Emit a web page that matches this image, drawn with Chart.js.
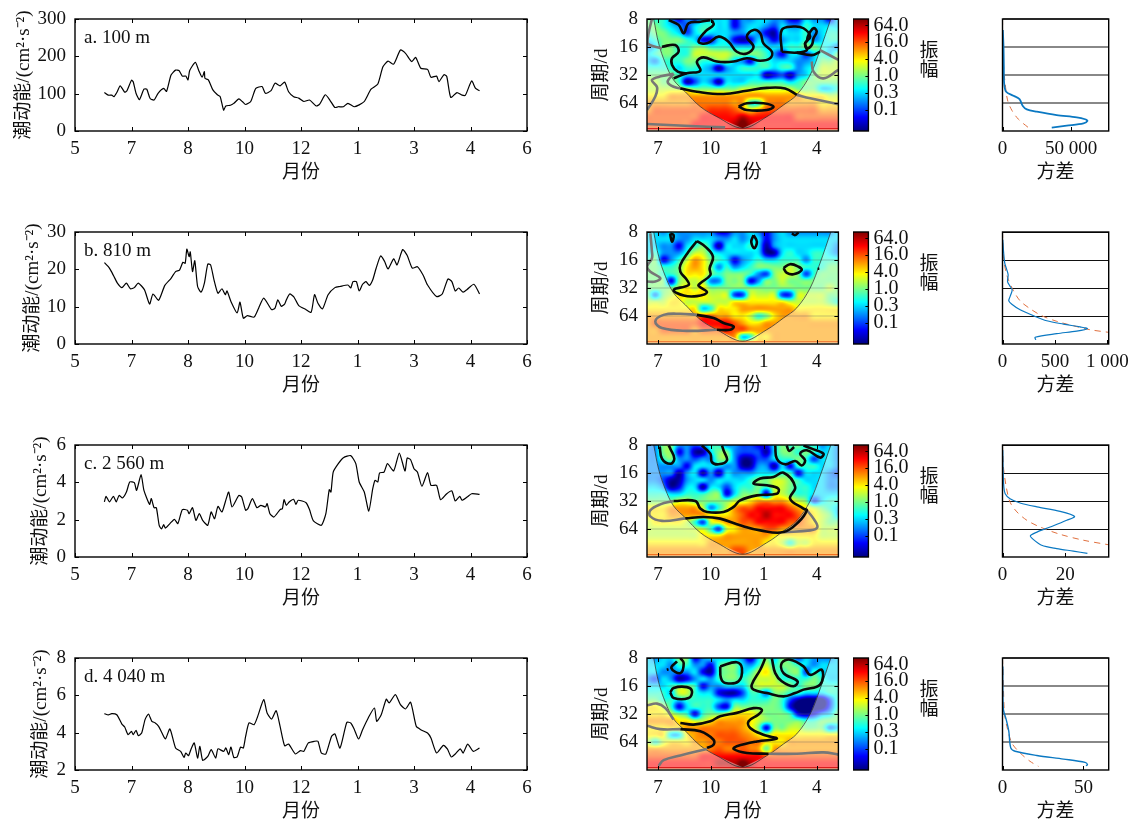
<!DOCTYPE html>
<html><head><meta charset="utf-8">
<script src="https://cdn.jsdelivr.net/npm/chart.js@4"></script>
<style>html,body{margin:0;padding:0;background:#fff}#p{position:relative;width:1134px;height:823px;overflow:hidden}canvas{position:absolute}</style>
</head><body><div id="p"></div>
<script>
const monthLabels=['5','7','8','10','12','1','3','4','6'];
const waveMonthTicks=[7,10,13,16];
const waveMonthLabels=['7','10','1','4'];
const periodTicks=[3,4,5,6];
const periodLabels=['8','16','32','64'];
const ampTicks=[6,4,2,0,-2,-4];
const ampLabels=['64.0','16.0','4.0','1.0','0.3','0.1'];
const waveCols=[6.4,6.85,7.3,7.75,8.2,8.65,9.1,9.55,10,10.45,10.9,11.35,11.8,12.25,12.7,13.15,13.6,14.05,14.5,14.95,15.4,15.85,16.3,16.75,17.2];
const waveRows=[3,3.25,3.5,3.75,4,4.25,4.5,4.75,5,5.25,5.5,5.75,6,6.25,6.5,6.75,7];
const coi=[[6.76,3],[7.04,3.87],[7.42,4.58],[7.89,5.18],[8.55,5.6],[9.4,6.13],[10.34,6.49],[11.8,6.9],[13.17,6.49],[14.12,6.07],[14.87,5.71],[15.63,5],[16.19,4.11],[16.8,3]];

const seriesA=[[.52,103],[.59,96],[.65,96],[.69,92],[.74,103],[.8,121],[.88,104],[.92,108],[1,136],[1.03,132],[1.08,101],[1.14,84],[1.22,112],[1.27,112],[1.33,87],[1.4,83],[1.47,101],[1.57,114],[1.62,106],[1.7,150],[1.78,163],[1.84,162],[1.9,147],[1.96,147],[2,137],[2.03,162],[2.13,184],[2.19,162],[2.25,144],[2.29,159],[2.3,141],[2.36,137],[2.44,110],[2.52,97],[2.57,92],[2.63,56],[2.67,67],[2.75,69],[2.81,74],[2.9,86],[2.96,79],[3.02,71],[3.11,79],[3.2,114],[3.31,119],[3.37,101],[3.47,108],[3.54,128],[3.63,121],[3.71,131],[3.78,105],[3.87,92],[3.96,88],[4.05,79],[4.15,83],[4.27,67],[4.33,72],[4.43,97],[4.51,83],[4.6,63],[4.66,65],[4.75,65],[4.83,74],[4.94,65],[5.03,70],[5.12,79],[5.24,112],[5.36,126],[5.45,172],[5.54,187],[5.64,179],[5.76,217],[5.85,208],[5.96,186],[6.03,197],[6.12,168],[6.24,165],[6.3,144],[6.4,147],[6.44,132],[6.53,151],[6.58,146],[6.65,90],[6.76,103],[6.85,96],[6.91,96],[7.02,134],[7.09,114],[7.16,108]];
const seriesB=[[.52,21.8],[.59,20.7],[.63,19.8],[.69,18.1],[.75,16.3],[.83,15.1],[.91,16.3],[.98,14.8],[1.05,15.1],[1.12,16.3],[1.23,14.5],[1.32,10.7],[1.38,13.4],[1.48,11.7],[1.59,15.7],[1.7,17.6],[1.78,19.4],[1.85,19.8],[1.91,21.9],[1.95,21.6],[1.98,25.4],[2.02,23.4],[2.04,24.7],[2.08,19.4],[2.12,22.3],[2.17,15.4],[2.23,13.9],[2.29,16.3],[2.35,21.4],[2.4,21.2],[2.46,17.2],[2.53,13.6],[2.6,14.8],[2.66,13.2],[2.69,14.2],[2.76,11.4],[2.87,8.3],[2.92,11.2],[2.98,6.9],[3.05,7.6],[3.17,7.2],[3.25,9.6],[3.34,12.3],[3.48,9.2],[3.54,9.6],[3.59,11.8],[3.65,10.1],[3.71,10.7],[3.74,11.8],[3.8,13.4],[3.87,12.7],[3.96,10.3],[4.09,9.2],[4.18,8.5],[4.24,13.2],[4.3,10.9],[4.38,9.4],[4.48,13.2],[4.6,15.1],[4.69,15.4],[4.83,15.8],[4.88,15],[4.92,16.7],[4.98,16.7],[5.03,14.2],[5.09,16],[5.15,16.7],[5.21,15.7],[5.27,17.2],[5.33,20.3],[5.41,23.6],[5.48,22.1],[5.54,20.1],[5.64,22.8],[5.7,21.2],[5.8,25.3],[5.88,23.7],[5.97,20.3],[6.06,20.7],[6.16,18.5],[6.24,15.8],[6.4,12.7],[6.5,13.4],[6.6,17.4],[6.67,16.7],[6.73,14.2],[6.79,15],[6.87,13.9],[6.94,14.6],[7.06,16],[7.16,13.4]];
const seriesC=[[.52,2.95],[.55,3.25],[.61,2.95],[.68,3.25],[.73,2.95],[.78,3.3],[.84,3.16],[.91,3.48],[.97,4.02],[1.05,3.98],[1.09,3.57],[1.17,4.41],[1.22,3.57],[1.32,2.82],[1.35,3.13],[1.4,2.64],[1.44,2.64],[1.49,1.7],[1.53,1.5],[1.57,1.73],[1.6,1.55],[1.68,1.79],[1.76,2.02],[1.82,1.79],[1.9,2.54],[1.99,2.5],[2.02,2.32],[2.08,2.64],[2.14,1.96],[2.2,2.32],[2.26,1.96],[2.35,1.7],[2.41,2.41],[2.47,2.05],[2.53,2.71],[2.6,2.41],[2.66,2.95],[2.72,3.48],[2.78,2.68],[2.9,3.3],[2.95,3.21],[3.02,2.5],[3.06,2.59],[3.14,3.13],[3.22,2.64],[3.29,2.77],[3.37,2.68],[3.4,2.86],[3.45,2.32],[3.52,2.14],[3.63,2.54],[3.67,2.59],[3.7,3.07],[3.74,2.77],[3.79,2.95],[3.87,3.09],[3.91,2.82],[3.95,3.04],[4.09,2.91],[4.15,2.54],[4.22,1.93],[4.36,1.7],[4.44,2.32],[4.5,3.61],[4.53,3.48],[4.57,4.55],[4.66,5],[4.75,5.32],[4.88,5.43],[4.97,5],[5.03,4.02],[5.12,3.48],[5.2,2.46],[5.27,3.66],[5.31,4.11],[5.36,4.02],[5.39,4.5],[5.47,4.55],[5.53,5],[5.64,4.61],[5.74,5.57],[5.84,4.61],[5.88,5.3],[5.94,5.21],[6,4.73],[6.06,4.55],[6.14,3.79],[6.24,4.52],[6.3,3.84],[6.4,3.84],[6.47,3.07],[6.58,3.39],[6.67,3.54],[6.73,3],[6.81,3.25],[6.85,3.04],[6.94,3.21],[7.02,3.39],[7.16,3.36]];
const seriesD=[[.52,5.02],[.59,4.95],[.65,5.02],[.74,4.96],[.83,4.46],[.88,4.3],[.94,3.89],[1,4.07],[1.03,3.89],[1.08,4.13],[1.12,3.84],[1.18,3.98],[1.24,4.7],[1.3,5],[1.36,4.61],[1.42,4.52],[1.48,4.34],[1.54,3.98],[1.6,3.66],[1.68,4.2],[1.78,3.18],[1.87,3],[1.93,2.68],[1.96,2.91],[2.01,2.77],[2.05,3.09],[2.11,3.45],[2.17,2.64],[2.21,3.27],[2.26,2.52],[2.35,2.73],[2.41,3.09],[2.49,2.64],[2.53,3.13],[2.63,3],[2.67,3.18],[2.72,2.82],[2.76,3.23],[2.81,2.68],[2.87,2.7],[2.93,3.23],[2.98,3.18],[3.02,3.8],[3.08,4.52],[3.17,4.43],[3.23,4.84],[3.34,5.77],[3.4,5.05],[3.48,4.73],[3.56,5.18],[3.63,4.34],[3.71,3.3],[3.78,3.39],[3.9,2.86],[3.99,3.04],[4.05,3],[4.13,3.45],[4.24,3.54],[4.3,3.54],[4.36,2.91],[4.44,2.86],[4.54,3.8],[4.6,3.93],[4.69,3.18],[4.81,4.55],[4.88,4.52],[4.94,4.2],[5.02,3.66],[5.09,4.16],[5.19,4.79],[5.3,5.32],[5.34,4.61],[5.42,4.96],[5.51,5.8],[5.56,5.59],[5.67,6.04],[5.76,5.5],[5.85,5.27],[5.94,5.63],[6.04,4.34],[6.12,4.16],[6.24,3.98],[6.3,3.71],[6.4,2.91],[6.52,3.32],[6.59,3.13],[6.66,2.7],[6.73,2.86],[6.82,3.13],[6.87,2.91],[6.95,3.39],[7.05,3],[7.16,3.18]];

const gridA=[
[0,-1,-1,-3,-5,-3,-4,-2,-2,-2,-2,-5,-3,-3,-2,-2,-3,-3,-5,-5,-2,-3,-3,-5,-2],
[0,0,-1,-2,-3,-4,-2,-1,-1,-2,-2,-5,-3,-2,-2,-3,-4,-2,-3,-3,-1,-2,-2,-2,-2],
[-1,0,0,-1,-2,-4,-2,-1,-2,-2,-2,-3,-3,-2,-3,-5,-6,-2,-2,-2,-1,-3,-2,-1,-1],
[-2,-1,0,0,0,-1,-2,-5,-5,-2,-2,-5,-6,-5,-2,-3,-5,-3,-2,-2,-1,-3,-2,-1,-1],
[-3,-2,0,0,-1,-1,0,0,-1,-1,-1,-2,-2,-2,-1,-2,-2,-2,-1,-1,0,0,-1,-2,-3],
[-2,-1,0,0,-1,-1,1,1,1,1,1,0,0,0,0,-1,-3,-5,-2,-2,-4,-2,-1,-2,0],
[-2,-3,-1,-1,-1,0,0,-1,-1,0,0,-2,-3,-5,-1,-1,-2,-2,-2,-3,-3,-2,0,0,1],
[-1,-1,-1,-1,-2,-1,-1,-2,-3,-6,-3,-2,-1,-1,-1,-1,-2,-1,-1,-3,-2,-1,1,1,1],
[0,0,0,0,-1,-2,-2,-2,-2,-2,-2,-2,-2,-2,-2,-6,-5,-4,-6,-3,-2,0,1,1,1],
[1,1,0,0,-1,-6,-4,-2,-3,-6,-2,-2,-2,-1,-1,-1,-1,-1,-2,-1,0,0,0,0,0],
[1,1,1,1,1,1,0,0,0,0,0,0,1,1,1,1,1,1,1,0,0,0,-2,-2,-1],
[2,2,2,3,3,3,3,3,3,3,3,3,3,3,3,3,3,3,3,3,2,2,2,1,1],
[3,3,3,3,3,3,3.5,3.5,3.5,3.5,3.5,3,3,-1,-1,3,3.5,3.5,3,3,3,3,2,2,2],
[3,4,4,4,4,4,4,4,4.5,4.5,4.5,4,3,2,3,4,4,4,4,4,4,4,3,3,3],
[4,4,4,4,4,4,4,5,5,5,5,5,6,5,5,5,5,5,5,4,4,4,4,4,4],
[4,4,4,4,4,4,5,5,5,5,5,6,7,6,5,5,5,5,5,5,5,5,5,5,5],
[4,4,4,4,4,5,5,5,5,5,5,6,7,6,5,5,5,5,5,5,5,5,5,5,5]];
const gridB=[
[-2,-2,-3,-2,-3,-3,-3,-3,-3,-5,-5,-3,-3,-2,-3,-5,-3,-2,-3,-3,-3,-3,-3,-3,-2],
[-2,-2,-2,-2,-3,-3,-2,-2,-2,-3,-3,-2,-3,-2,-2,-5,-3,-2,-2,-2,-2,-2,-2,-2,-2],
[-2,-2,-3,-3,-5,-2,-1,0,-2,-6,-2,-2,-2,-1,-2,-6,-3,-2,-2,-2,-2,-2,-2,-2,-3],
[-2,-1,-3,-3,-3,-1,1,1,-1,-2,-2,-2,-2,-2,-2,-6,-6,-2,-1,-2,-2,-1,-1,-2,-3],
[-1,0,-5,-3,-1,1,3,2,0,-1,-2,-5,-3,-2,-1,-2,-2,-1,-1,-1,-3,-1,-1,-1,-1],
[0,0,-1,-1,0,2,3,2,0,-3,-1,-3,-2,-1,0,0,0,0,1,0,-1,-1,-1,0,0],
[0,0,-1,-1,0,2,2,2,0,-1,0,0,0,-1,-3,-4,0,1,1,0,-4,-1,0,0,0],
[0,0,0,-5,0,1,1,1,-3,-3,0,0,0,-5,-3,0,0,1,0,0,0,0,0,0,0],
[0,0,0,0,1,2,1,2,0,0,0,0,0,0,0,0,0,0,0,0,0,0,0,1,0],
[0,-3,0,1,2,2,2,2,1,1,1,-4,-4,1,1,1,1,-4,-4,1,1,1,1,0,0],
[1,1,1,2,2,1,1,1,1,1,1,2,2,2,2,2,2,2,1,1,1,1,1,0,-1],
[2,2,2,2,2,2,2,-2,-1,2,2,2,3,3,3,3,3,3,3,2,2,2,2,2,2],
[3,3,3,3,3,3,3,4,4,3,3,2,2,1,-1,0,2,3,3,3,3,2,2,2,2],
[3,4,4,4,4,4,4,5,5,5,5,4,3,2,2,3,3,3,3,3,3,3,3,3,3],
[3,3,4,4,4,4,3,4,4,4,5,4,4,3,3,3,3,3,3,3,3,3,3,3,3],
[3,3,3,3,3,3,3,3,3,3,3,3,-2,-1,2,2,3,3,3,3,3,3,3,3,3],
[3,3,3,3,3,3,3,3,3,3,3,3,3,3,3,3,3,3,3,3,3,3,3,3,3]];
const gridC=[
[-3,-3,0,0,-3,-3,-4,-3,-1,-1,-3,-3,-4,-4,-5,-5,-2,0,-1,0,-2,-1,-3,-2,-3],
[-3,-3,0,0,-5,-3,-6,-6,-2,0,0,-3,-4,-4,-4,-6,-2,0,0,-1,0,-1,-2,-2,-3],
[-3,-3,-1,0,-3,-3,-4,-3,-3,0,0,-3,-6,-6,-4,-4,-2,-1,-1,0,-1,-4,-2,-2,-3],
[-3,-3,-3,-3,-3,-5,-2,-2,-2,-2,-3,-3,-6,-6,-3,-3,-6,-2,-5,-1,-1,-1,-2,-2,-3],
[-3,-3,-3,-3,-6,-3,-2,-6,-3,-6,-2,-3,-3,-3,-2,-2,-2,-1,-1,-5,-2,-2,-2,-3,-4],
[-3,-3,-4,-6,-6,-3,-2,-2,-3,-2,-2,-2,-2,-1,0,0,1,1,0,-1,-2,-2,-2,-3,-3],
[-2,-2,-3,-6,-5,-2,-2,-6,-2,-2,-4,-2,-1,-1,0,-1,1,1,0,-1,-1,-2,-2,-3,-3],
[-1,-1,-1,-2,-2,-1,-1,-1,0,0,-5,-2,0,0,0,-5,1,1,0,-1,-1,-2,-2,-2,-2],
[0,0,0,0,1,1,0,0,0,0,0,1,1,2,3,3,3,3,2,1,0,-4,-2,-1,-1],
[2,2,2,3,3,3,3,1,-3,-1,1,3,4,4,5,5,5,5,4,3,2,1,0,-1,-2],
[2,2,2,3,3,3,3,3,2,2,2,3,4,5,5,6,5,5,5,4,3,2,1,0,-2],
[1,2,2,2,2,1,-1,-4,1,2,3,3,4,4,5,5,5,5,4,4,3,2,1,0,0],
[1,1,1,1,1,1,1,1,-1,-4,1,2,3,3,3,4,4,3,3,3,3,3,1,1,1],
[1,1,1,1,1,1,1,2,2,2,3,3,3,3,3,3,2,2,2,2,2,2,1,1,1],
[2,2,2,2,2,2,2,2,3,3,3,3,3,3,3,2,2,1,-1,1,1,2,2,2,2],
[3,3,3,3,3,3,3,3,3,3,3,4,4,3,3,3,3,3,3,3,3,3,3,3,3],
[3,3,3,3,3,3,3,3,3,3,3,3,4,3,3,3,3,3,3,3,3,3,3,3,3]];
const gridD=[
[-2,-3,-2,-2,0,0,-5,-3,-2,-2,-2,-2,-3,-6,-2,0,-2,0,-1,-4,-2,-3,-3,-3,-2],
[-2,-2,-2,-3,-1,-1,-3,-3,-5,-1,0,0,-2,-3,-1,1,-1,0,0,-1,-2,-3,-2,-2,-2],
[-2,-2,-3,-3,-3,-3,-2,-5,-6,-1,0,0,-2,-1,1,2,0,-1,0,0,-4,-1,-2,-2,-2],
[-3,-4,-2,-3,-6,-5,-3,-2,-3,-1,0,0,-1,0,1,1,1,-1,-1,-1,-1,0,-1,-2,-2],
[-2,-2,-2,-1,0,0,-1,-5,-3,-3,-2,-2,-2,0,1,1,1,1,0,-1,0,0,-1,-1,-1],
[-1,-1,-1,-2,1,1,-1,-2,-2,-5,-6,-6,-4,-1,-1,-3,0,0,-1,-1,-2,-2,-2,-1,-1],
[0,0,-1,-1,-2,-1,-1,-1,-1,-2,-3,-2,-2,-1,-1,-1,0,-1,-4,-6,-7,-7,-7,-4,-1],
[2,2,1,-1,-5,-2,-1,-1,-1,-4,-5,0,0,0,0,0,0,-1,-5,-7,-7,-7,-7,-4,-1],
[2,2,2,1,0,-1,-5,-1,0,0,1,2,2,2,1,0,0,0,-1,-5,-6,-5,-3,-2,0],
[3,3,3,3,2,2,1,1,2,3,3,3,3,2,1,0,0,0,0,0,-1,-1,0,0,0],
[2,2,2,2,2,3,3,3.5,3.5,3.5,3.5,3.5,3,2,0,-5,0,0,1,1,0,0,0,-3,-2],
[2,2,2,-2,-2,2,3,3.5,3.5,4,4,4,3.5,3,2,1,2,2,2,2,2,2,2,2,2],
[1,-1,1,2,2,2,3,3,3.5,3.5,4,4,4,3.5,3.5,2,2,2,3,3,3,3,3,3,3],
[3,3,3,3,3,3,3,3,3.5,4,3.5,3.5,4,3.5,3,0,3,3,3,3,3,3,3,3,3],
[4,4,4,4,4,4,4,5,5,5,5,5,5,5,5,4,4,4,4,4,4,4,4,4,4],
[5,5,5,5,5,5,5,5,5,6,6,6,7,6,5,5,5,5,5,5,5,5,5,5,5],
[5,5,5,5,5,5,5,5,5,5,5,6,7,6,5,5,5,5,5,5,5,5,5,5,5]];

const contourA=[
[[8.27,5.48],[9.21,5.6],[10.72,5.68],[12.04,5.56],[13.17,5.46],[14.21,5.48],[14.87,5.71]],
[[11.57,6.13],[12.04,6.01],[12.98,6.01],[13.55,6.13],[13.17,6.25],[12.04,6.25],[11.57,6.13]],
[[7.89,5.12],[8.64,4.94],[9.4,4.85],[9.21,4.52],[9.59,4.37],[10.34,4.52],[11.29,4.52],[12.04,4.4],[12.8,4.49],[13.36,4.4],[13.46,4.17],[12.98,3.87],[12.8,3.51],[12.42,3.39],[12.04,3.63],[12.42,3.99],[12.04,4.23],[11.47,4.17],[11,3.81],[10.44,3.63],[9.78,3.87],[9.3,3.81],[9.68,3.45],[10.15,3.21],[10.06,3.04]],
[[7.23,3.99],[7.98,3.93],[8.17,4.17],[7.8,4.4],[7.8,4.64],[8.12,4.88],[8.64,4.94]],
[[7.61,3.04],[8.17,3.21],[8.46,3.51],[8.74,3.15],[9.4,3.1],[9.97,3.04]],
[[14.02,4.17],[14.02,3.39],[14.68,3.27],[15.25,3.33],[15.63,3.63],[15.34,3.87],[15.44,4.11],[14.87,4.2],[14.02,4.17]],
[[14.87,4.2],[15.72,4.29],[16.19,4.17]],
[[15.44,3.81],[15.53,3.57],[15.82,3.33],[16,3.45],[15.82,3.69],[15.72,3.93],[15.44,4.05],[15.34,3.87],[15.44,3.81]]];
const greyA=[
[[6.66,3],[6.47,3.51],[6.42,3.87],[7.23,4.05]],
[[6.38,6.25],[6.85,5.77],[6.95,5.44],[6.66,5.18],[7.23,5.04],[7.89,4.96]],
[[7.89,4.96],[7.55,5.24],[7.89,5.42],[8.55,5.51]],
[[14.87,5.71],[15.63,5.83],[17.23,6.04]],
[[16.19,4.11],[17.23,4.46]],
[[17.23,4.82],[16.38,5.12],[15.82,4.88],[15.72,4.52]],
[[6.38,6.75],[8.83,6.82],[10.81,6.87]]];
const contourB=[
[[9.21,3.32],[9.68,3.52],[10.12,3.88],[9.93,4.3],[9.97,4.54],[9.4,4.83],[9.3,4.92],[9.78,5.15],[9.21,5.29],[8.46,5.27],[7.89,5.07],[8.74,4.89],[8.64,4.71],[8.27,4.42],[8.27,4.18],[8.74,3.7],[9.21,3.32]],
[[7.7,3.05],[7.89,3.11],[7.8,3.35],[7.7,3.11],[7.7,3.05]],
[[12.42,3.11],[12.61,3.35],[12.46,3.58],[12.29,3.35],[12.42,3.11]],
[[14.59,3.05],[14.78,3.11],[14.97,3.01]],
[[14.12,4.29],[14.49,4.15],[14.97,4.24],[15.15,4.36],[14.68,4.51],[14.31,4.46],[14.12,4.29]],
[[16.05,4.31],[16.15,4.31]],
[[9.21,5.96],[10.15,6.07],[10.72,6.25],[11.29,6.37],[11.1,6.49],[10.34,6.49]]];
const greyB=[
[[6.57,3.05],[6.66,3.7],[6.66,3.94],[6.38,4.24],[6.57,4.42],[7.13,4.65],[6.85,4.77],[6.38,4.77]],
[[9.21,5.96],[8.27,5.92],[7.32,5.96],[6.85,6.19],[7.23,6.43],[8.64,6.53],[10.34,6.49]]];
const contourC=[
[[7.89,5],[9.12,5],[9.4,5.27],[9.78,5.39],[10.72,5.39],[11.29,5.21],[11.66,4.98],[12.61,4.8],[13.74,4.74],[13.83,4.56],[13.17,4.44],[12.42,4.38],[12.8,4.2],[13.55,4.14],[14.12,3.99],[14.78,4.5],[14.49,4.92],[15.25,5.27],[15.44,5.33],[14.97,5.75],[14.12,6.11],[12.8,6.05],[11.66,5.87],[10.53,5.63],[9.59,5.57],[8.55,5.62]],
[[7.1,3.05],[7.23,3.49],[7.7,3.67],[7.93,3.49],[7.7,3.13],[7.61,3.02]],
[[9.49,3.02],[9.97,3.31],[10.06,3.61],[10.44,3.69],[10.91,3.55],[10.72,3.19],[10.63,3.02]],
[[13.65,3.02],[13.74,3.49],[14.21,3.69],[14.78,3.57],[15.15,3.73],[15.34,3.55],[15.06,3.31],[15.44,3.19],[16.19,3.45],[16.38,3.31],[15.72,3.13],[15.25,3.02]],
[[14.3,3.02],[14.44,3.21],[14.72,3.07]]];
const greyC=[
[[7.89,5],[7.13,5.12],[6.57,5.33],[6.57,5.55],[7.23,5.71],[8.55,5.62]],
[[15.44,5.33],[15.82,5.63],[16.04,5.93],[15.63,6.05],[14.12,6.11]]];
const contourD=[
[[8.27,5.32],[9.02,5.38],[9.97,5.26],[10.53,5.08],[11.47,4.96],[12.42,4.79],[12.89,4.85],[12.7,5.02],[12.14,5.26],[12.23,5.5],[12.98,5.74],[13.74,5.88],[12.61,5.98],[11.47,6.15],[11.29,6.25],[12.04,6.39],[13.27,6.42]],
[[8.27,5.54],[9.4,5.62],[10.15,5.92],[10.15,6.1],[9.78,6.21]],
[[7.7,4.23],[7.89,4.07],[8.64,4.04],[8.93,4.19],[8.74,4.43],[7.89,4.43],[7.7,4.23]],
[[8.27,3],[8.46,3.18],[8.27,3.54],[7.76,3.36],[8.08,3.12]],
[[7.5,3.42],[7.6,3.4]],
[[10.53,3.3],[11.47,3.15],[11.76,3.36],[11.57,3.83],[10.81,3.89],[10.57,3.71],[10.53,3.3]],
[[13.08,3.02],[12.8,3.42],[12.32,3.95],[12.42,4.13],[13.17,4.25],[14.12,4.37],[14.78,4.25],[15.25,4.13],[16.19,3.95],[16.29,3.42],[15.63,3.6],[15.25,3.3],[14.49,3.06],[14.02,3.18],[14.12,3.54],[14.91,3.83],[14.68,4.01],[14.02,3.83],[13.65,3.54],[13.46,3.02]]];
const greyD=[
[[6.38,4.69],[6.95,4.63],[7.42,4.79],[7.89,5.2]],
[[6.38,5.42],[7.13,5.54],[8.27,5.54]],
[[7.04,6.85],[7.32,6.65],[8.27,6.48],[9.78,6.25]],
[[13.27,6.42],[14.87,6.42],[16.38,6.37],[17.23,6.45]]];

const varBlueA=[[240,3.39],[730,3.99],[970,4.7],[1210,5.3],[2670,5.6],[8000,5.74],[12400,5.86],[14800,6.11],[17700,6.23],[25000,6.31],[39500,6.43],[54100,6.51],[60200,6.58],[61900,6.64],[59000,6.73],[46800,6.81],[35900,6.88]];
const varRedA=[[0,3],[730,4.7],[1940,5.3],[3640,5.89],[6800,6.26],[11600,6.58],[18900,6.88]];
const varBlueB=[[3,3.28],[10,3.7],[22,4.12],[41,4.35],[54,4.53],[48,4.77],[67,4.91],[92,5.07],[73,5.3],[60,5.46],[89,5.58],[168,5.78],[295,5.99],[422,6.17],[580,6.29],[739,6.39],[809,6.45],[707,6.54],[517,6.63],[311,6.76],[317,6.85]];
const varRedB=[[0,3],[10,3.94],[32,4.41],[57,4.71],[105,5.1],[168,5.46],[263,5.74],[374,5.99],[517,6.19],[676,6.35],[834,6.49],[1005,6.58]];
const varBlueC=[[.1,3.19],[.2,3.9],[.43,4.5],[.85,4.74],[2.4,4.92],[5.6,5.07],[11,5.21],[18.4,5.37],[23,5.55],[20.5,5.69],[15.2,5.93],[11,6.11],[8.9,6.24],[9.9,6.38],[12.5,6.58],[17.3,6.7],[22.6,6.79],[27.1,6.87]];
const varRedC=[[0,3],[.3,3.79],[1.2,4.5],[2.4,5.04],[4.6,5.39],[7.8,5.69],[12,5.93],[18.4,6.19],[25.8,6.4],[33.7,6.56]];
const varBlueD=[[.2,3.3],[.2,4.13],[.6,4.85],[2.3,5.2],[3.9,5.62],[5.1,6.21],[7.8,6.33],[21.2,6.48],[37.7,6.61],[51,6.73],[52.5,6.81],[51.6,6.85]];
const varRedD=[[0,3],[.6,4.13],[1.2,4.96],[2.7,5.44],[5.8,6.04],[10.9,6.39],[17,6.69],[22.2,6.87]];

const FONT='"Liberation Serif","Noto Sans CJK SC",serif';
const TITLE='潮动能/(cm²·s⁻²)';
const P=document.getElementById('p');
const noPad=s=>{s.paddingTop=0;s.paddingBottom=0;s.paddingLeft=0;s.paddingRight=0};
const fitH=h=>s=>{s.height=h;noPad(s)};
const fitW=w=>s=>{s.width=w;noPad(s)};
const box=(o)=>({id:'box',afterDatasetsDraw(c){const a=c.chartArea,g=c.ctx;g.save();g.strokeStyle='#000';g.lineWidth=1;g.beginPath();
  const len=o.len||4;
  if(o.x)c.scales.x.ticks.forEach(t=>{const p=Math.round(c.scales.x.getPixelForValue(t.value))+.5;g.moveTo(p,a.bottom);g.lineTo(p,a.bottom-len);if(o.top){g.moveTo(p,a.top);g.lineTo(p,a.top+len)}});
  if(o.y)c.scales.y.ticks.forEach(t=>{const p=Math.round(c.scales.y.getPixelForValue(t.value))+.5;if(o.left!==false){g.moveTo(a.left,p);g.lineTo(a.left+len,p)}g.moveTo(a.right,p);g.lineTo(a.right-len,p)});
  g.stroke();g.lineWidth=1.4;g.strokeRect(a.left,a.top,a.right-a.left,a.bottom-a.top);
  if(o.text){g.fillStyle='#111';g.font='19px '+FONT;g.textBaseline='middle';g.fillText(o.text,a.left+9,a.top+19)}
  g.restore()}});
function mk(L,T,W,H,type,cfg,plugins){const cv=document.createElement('canvas');cv.width=W;cv.height=H;cv.style.left=L+'px';cv.style.top=T+'px';cv.style.width=W+'px';cv.style.height=H+'px';P.appendChild(cv);
  cfg.animation=false;cfg.responsive=false;cfg.devicePixelRatio=1;cfg.events=[];
  cfg.plugins=Object.assign({legend:{display:false},tooltip:{enabled:false}},cfg.plugins||{});
  return new Chart(cv,{type,data:cfg.data,options:cfg,plugins});}
const tickFont={family:FONT,size:19};
const titleCfg=(t)=>({display:true,text:t,color:'#111',font:{family:FONT,size:19},padding:0});
const noGrid={display:false,drawTicks:false};
const pts=a=>a.map(p=>({x:p[0],y:p[1]}));
function timePanel(plotTop,left,series,ymin,ymax,step,text){
  const top=plotTop-12;
  mk(left,top,541-left,177,'scatter',{data:{datasets:[{data:pts(series),showLine:true,borderColor:'#000',borderWidth:1.2,pointRadius:0,tension:.2}]},
   layout:{padding:{top:12,right:14,left:0,bottom:0}},
   scales:{x:{type:'linear',min:0,max:8,afterFit:fitH(53),afterBuildTicks(s){s.ticks=monthLabels.map((_,i)=>({value:i}))},grid:noGrid,border:{display:false},title:titleCfg('月份'),
      ticks:{font:tickFont,color:'#111',padding:7,maxRotation:0,autoSkip:false,callback:v=>monthLabels[v]}},
    y:{min:ymin,max:ymax,afterFit:fitW(75-left),grid:noGrid,border:{display:false},title:titleCfg(TITLE),
      ticks:{stepSize:step,font:tickFont,color:'#111',padding:9}}}},[box({x:true,y:true,top:true,text})]);
}
function jet(v){const c=x=>Math.max(0,Math.min(1,x));return [c(1.5-Math.abs(4*v-3)),c(1.5-Math.abs(4*v-2)),c(1.5-Math.abs(4*v-1))].map(x=>Math.round(x*255));}
const AMIN=-6.55,AMAX=6.75;
function cr(p0,p1,p2,p3,t){return .5*(2*p1+(p2-p0)*t+(2*p0-5*p1+4*p2-p3)*t*t+(3*p1-p0-3*p2+p3)*t*t*t);}
function sample(grid,u,v){const R=grid.length-1,C=grid[0].length-1;const iu=Math.max(0,Math.min(C-1,Math.floor(u))),iv=Math.max(0,Math.min(R-1,Math.floor(v)));const fu=Math.max(0,Math.min(1,u-iu)),fv=Math.max(0,Math.min(1,v-iv));
  const get=(r,c)=>{const row=grid[Math.max(0,Math.min(R,r))];return row[Math.max(0,Math.min(row.length-1,c))]};
  const col=[];for(let k=-1;k<3;k++)col.push(cr(get(iv+k,iu-1),get(iv+k,iu),get(iv+k,iu+1),get(iv+k,iu+2),fu));
  return cr(col[0],col[1],col[2],col[3],fv);}
const heat=(grid,lineColor)=>({id:'heat',beforeDatasetsDraw(c){const a=c.chartArea,g=c.ctx,sx=c.scales.x,sy=c.scales.y;
  const x0=Math.round(a.left),y0=Math.round(a.top),w=Math.round(a.right-a.left),h=Math.round(a.bottom-a.top);
  const im=g.createImageData(w,h);const t0=waveCols[0],dt=waveCols[1]-waveCols[0],r0=waveRows[0],dr=waveRows[1]-waveRows[0];
  for(let j=0;j<h;j++){const L=sy.getValueForPixel(y0+j+.5);for(let i=0;i<w;i++){const t=sx.getValueForPixel(x0+i+.5);
    const val=sample(grid,(t-t0)/dt,(L-r0)/dr);const rgb=jet(Math.max(0,Math.min(1,(val-AMIN)/(AMAX-AMIN))));const k=(j*w+i)*4;im.data[k]=rgb[0];im.data[k+1]=rgb[1];im.data[k+2]=rgb[2];im.data[k+3]=255;}}
  g.putImageData(im,x0,y0);
  g.save();g.beginPath();g.rect(a.left,a.top,a.right-a.left,a.bottom-a.top);coi.forEach((p,i)=>{const X=sx.getPixelForValue(p[0]),Y=sy.getPixelForValue(p[1]);i?g.lineTo(X,Y):g.moveTo(X,Y)});g.closePath();g.fillStyle='rgba(255,255,255,.42)';g.fill('evenodd');
  g.strokeStyle='rgba(90,90,90,.45)';g.lineWidth=.8;g.beginPath();[4,5,6].forEach(v=>{const y=sy.getPixelForValue(v);g.moveTo(a.left,y);g.lineTo(a.right,y)});g.stroke();
  const yb=sy.getPixelForValue(6.92);g.fillStyle='#fff6c8';g.fillRect(a.left,yb,a.right-a.left,a.bottom-yb);
  g.strokeStyle=lineColor;g.lineWidth=1.5;g.beginPath();g.moveTo(a.left,yb);g.lineTo(a.right,yb);g.stroke();
  g.restore();}});
function wavePanel(plotTop,grid,black,grey,lineColor){
  const top=plotTop-12;const ds=[];
  black.forEach(k=>ds.push({data:pts(k),showLine:true,borderColor:'#0a0a0a',borderWidth:2.6,pointRadius:0,tension:.4}));
  grey.forEach(k=>ds.push({data:pts(k),showLine:true,borderColor:'#777',borderWidth:2.6,pointRadius:0,tension:.4}));
  ds.push({data:pts(coi),showLine:true,borderColor:'#222',borderWidth:.7,pointRadius:0,tension:.35});
  mk(591,top,253,177,'scatter',{data:{datasets:ds},layout:{padding:{top:12,right:5.6,left:0,bottom:0}},
   scales:{x:{type:'linear',min:6.38,max:17.23,afterFit:fitH(53),afterBuildTicks(s){s.ticks=waveMonthTicks.map(v=>({value:v}))},grid:noGrid,border:{display:false},title:titleCfg('月份'),
      ticks:{font:tickFont,color:'#111',padding:7,maxRotation:0,autoSkip:false,callback:v=>waveMonthLabels[waveMonthTicks.indexOf(v)]}},
    y:{reverse:true,min:3,max:7,afterFit:fitW(56),afterBuildTicks(s){s.ticks=periodTicks.map(v=>({value:v}))},grid:noGrid,border:{display:false},title:titleCfg('周期/d'),
      ticks:{font:tickFont,color:'#111',padding:9,autoSkip:false,callback:v=>periodLabels[periodTicks.indexOf(v)]}}}},[heat(grid,lineColor),box({x:true,y:true,top:true})]);
}
const barPaint={id:'bar',beforeDatasetsDraw(c){const a=c.chartArea,g=c.ctx,sy=c.scales.y;for(let p=Math.round(a.top);p<Math.round(a.bottom);p++){const v=sy.getValueForPixel(p+.5);const r=jet((v-AMIN)/(AMAX-AMIN));g.fillStyle=`rgb(${r})`;g.fillRect(a.left,p,a.right-a.left,1);}
  g.save();g.fillStyle='#111';g.font='19px '+FONT;g.textAlign='center';g.textBaseline='middle';g.fillText('振',76,a.top+33);g.fillText('幅',76,a.top+52);g.restore();}};
function colorBar(plotTop){
  mk(853,plotTop-12,87,136,'scatter',{data:{datasets:[{data:[]}]},layout:{padding:{top:12,bottom:12,left:0,right:0}},
   scales:{x:{display:false,min:0,max:1},
    y:{position:'right',min:AMIN,max:AMAX,afterFit:fitW(71.6),afterBuildTicks(s){s.ticks=ampTicks.map(v=>({value:v}))},grid:noGrid,border:{display:false},
      ticks:{font:{family:FONT,size:20},color:'#111',padding:5,autoSkip:false,callback:v=>ampLabels[ampTicks.indexOf(v)]}}}},[barPaint,box({y:true,left:false,len:3})]);
}
function varPanel(plotTop,blue,red,xmax,tickVals,tickLabs,gridCol,gridW,blueW){
  mk(975,plotTop-12,159,177,'scatter',{data:{datasets:[
    {data:pts(blue),showLine:true,borderColor:'#0a78c2',borderWidth:blueW,pointRadius:0,tension:.3},
    {data:pts(red),showLine:true,borderColor:'#e0703f',borderWidth:1,borderDash:[6,5],pointRadius:0,tension:.3}]},
   layout:{padding:{top:12,right:25.3,left:0,bottom:0}},
   scales:{x:{type:'linear',min:0,max:xmax,afterFit:fitH(53),afterBuildTicks(s){s.ticks=tickVals.map(v=>({value:v}))},grid:noGrid,border:{display:false},title:titleCfg('方差'),
      ticks:{font:tickFont,color:'#111',padding:7,maxRotation:0,autoSkip:false,callback:v=>tickLabs[tickVals.indexOf(v)]}},
    y:{reverse:true,min:3,max:7,afterFit:fitW(27.5),afterBuildTicks(s){s.ticks=periodTicks.map(v=>({value:v}))},border:{display:false},
      grid:{color:gridCol,lineWidth:gridW,drawTicks:false},ticks:{display:false}}}},[box({x:true})]);
}
const tops=[19,232,445,658];
timePanel(tops[0],13,seriesA,0,300,100,'a. 100 m');
timePanel(tops[1],22,seriesB,0,30,10,'b. 810 m');
timePanel(tops[2],30,seriesC,0,6,2,'c. 2 560 m');
timePanel(tops[3],30,seriesD,2,8,2,'d. 4 040 m');
wavePanel(tops[0],gridA,contourA,greyA,'#e02020');
wavePanel(tops[1],gridB,contourB,greyB,'#f0803a');
wavePanel(tops[2],gridC,contourC,greyC,'#f07020');
wavePanel(tops[3],gridD,contourD,greyD,'#d81c1c');
tops.forEach(colorBar);
varPanel(tops[0],varBlueA,varRedA,77400,[0,50000],['0','50 000'],'#888',2,1.8);
varPanel(tops[1],varBlueB,varRedB,1012,[0,500,1000],['0','500','1 000'],'#111',1,1.2);
varPanel(tops[2],varBlueC,varRedC,33.9,[0,20],['0','20'],'#111',1,1.2);
varPanel(tops[3],varBlueD,varRedD,65.6,[0,50],['0','50'],'#888',2,1.4);
</script></body></html>
